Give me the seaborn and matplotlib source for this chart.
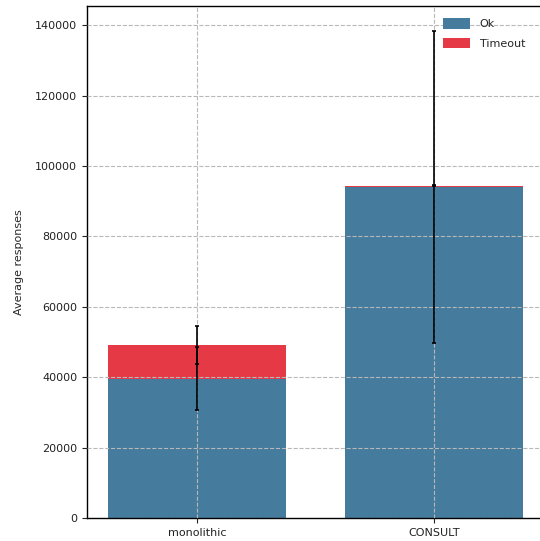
import matplotlib
matplotlib.use("Agg")
import matplotlib.pyplot as plt
import seaborn as sns
import pandas as pd

categories = ["monolithic", "CONSULT"]
ok_values = [39600, 94100]
timeout_values = [9500, 300]
ok_err = [8860, 44400]
timeout_err = [5450, 200]

sns.set_theme(style="ticks")
plt.rcParams["font.family"] = ["DejaVu Sans"]

ok_color = "#457b9d"
to_color = "#e63946"

totals = [o + t for o, t in zip(ok_values, timeout_values)]
df = pd.DataFrame({"cat": categories, "ok": ok_values, "total": totals})

fig = plt.figure(figsize=(5.40, 5.41), dpi=100)
ax = fig.add_axes([0.161, 0.0425, 0.845, 0.946])

sns.barplot(data=df, x="cat", y="total", color=to_color, saturation=1,
            width=0.75, ax=ax, label="Timeout", errorbar=None, linewidth=0)
sns.barplot(data=df, x="cat", y="ok", color=ok_color, saturation=1,
            width=0.75, ax=ax, label="Ok", errorbar=None, linewidth=0)

ax.errorbar([0, 1], ok_values, yerr=ok_err, fmt="none", ecolor="black",
            elinewidth=1.2, capsize=1.5, capthick=1.2, zorder=5)
ax.errorbar([0, 1], totals, yerr=timeout_err, fmt="none", ecolor="black",
            elinewidth=1.2, capsize=1.5, capthick=1.2, zorder=5)

ax.set_xlim(-0.464, 1.46)
ax.set_ylim(0, 145400)
ax.set_yticks([0, 20000, 40000, 60000, 80000, 100000, 120000, 140000])
ax.set_xlabel("")
ax.set_ylabel("Average responses", fontsize=8, labelpad=8)
ax.tick_params(axis="both", labelsize=8, length=3.5, width=0.8, colors="#222222")
ax.grid(True, linestyle="--", color="#b8b8b8", linewidth=0.8)
ax.set_axisbelow(False)
for s in ax.spines.values():
    s.set_color("black")
    s.set_linewidth(1.0)
ax.spines["right"].set_visible(False)

h, l = ax.get_legend_handles_labels()
order = [l.index("Ok"), l.index("Timeout")]
ax.legend([h[i] for i in order], [l[i] for i in order], loc="upper right",
          bbox_to_anchor=(0.970, 0.985),
          frameon=False, fontsize=8, handlelength=2.4, handleheight=1.1,
          labelspacing=0.75, handletextpad=0.9, borderaxespad=0.0)

fig.savefig("out.png", dpi=100)
